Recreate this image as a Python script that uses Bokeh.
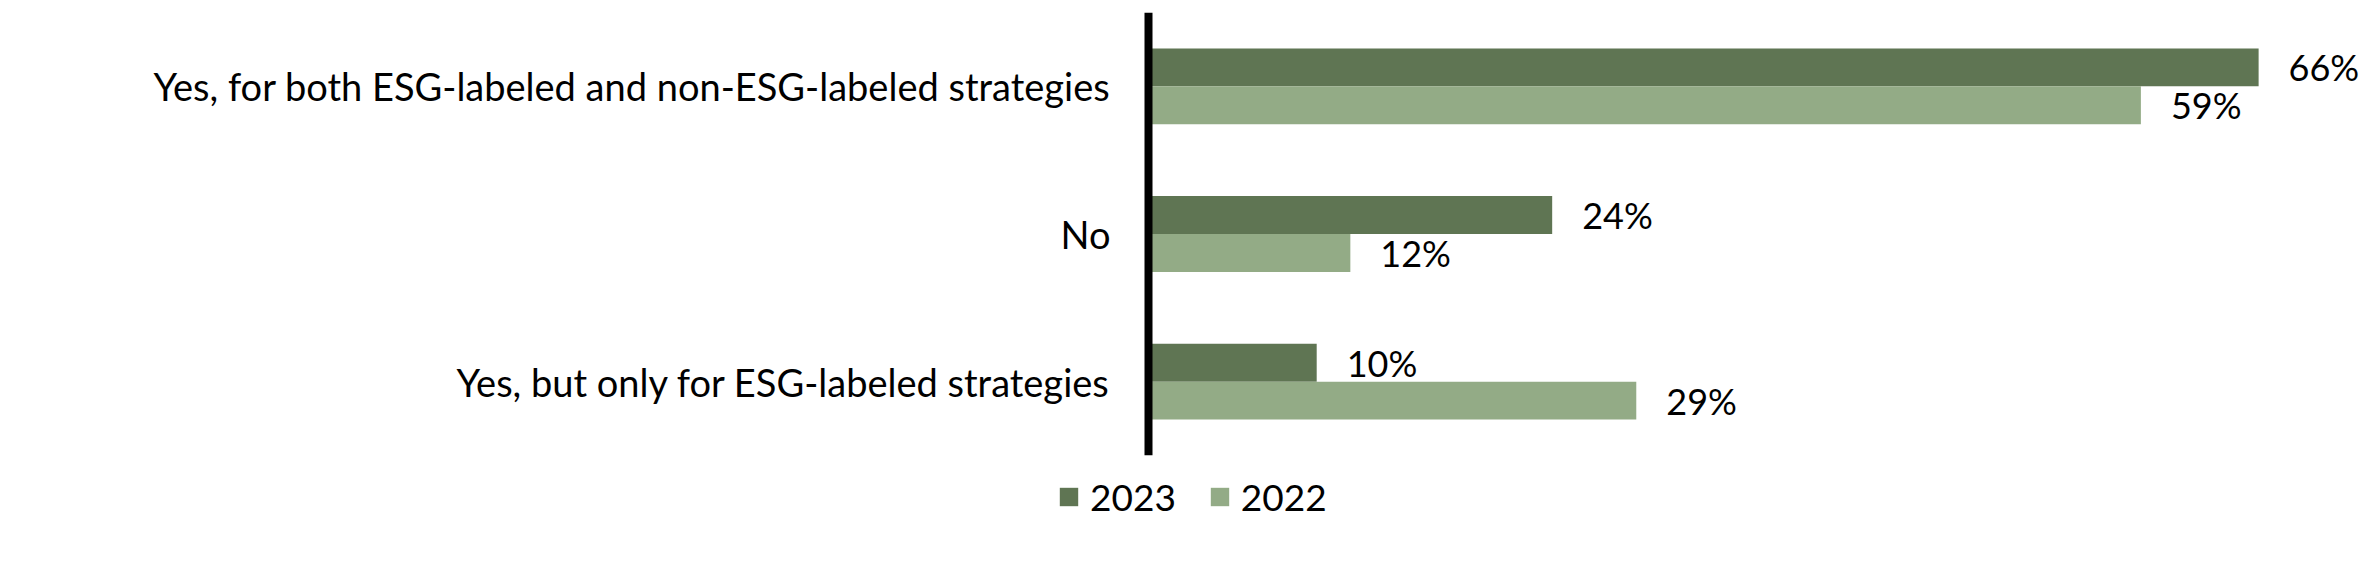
from bokeh.plotting import figure
from bokeh.models import ColumnDataSource, FactorRange, LabelSet, Legend, LegendItem, Span
from bokeh.layouts import column
from bokeh.transform import dodge
from bokeh.core.properties import value
from bokeh.embed import file_html
from bokeh.resources import INLINE

categories = ["Yes, for both ESG-labeled and non-ESG-labeled strategies",
              "No",
              "Yes, but only for ESG-labeled strategies"]
series_names = ["2023", "2022"]
values_2023 = [66, 24, 10]
values_2022 = [59, 12, 29]

C23 = "#5F7553"
C22 = "#93AB86"
FONT = "Lato"

def src(vals):
    return ColumnDataSource(dict(cat=categories, val=vals, lbl=[f"{v}%" for v in vals]))

s23 = src(values_2023)
s22 = src(values_2022)
scat = ColumnDataSource(dict(cat=categories))

W = 2360
PX_PER_UNIT = 16.82
ZERO_PX = 1148
x_start = -ZERO_PX / PX_PER_UNIT
x_end = (W - ZERO_PX) / PX_PER_UNIT

p = figure(width=W, height=460, output_backend="svg", toolbar_location=None,
           y_range=FactorRange(factors=list(reversed(categories)), range_padding=0),
           x_range=(x_start, x_end), min_border_left=0, min_border_right=0,
           min_border_top=12, min_border_bottom=5)

bh = 0.257
r23 = p.hbar(y=dodge("cat", bh / 2, range=p.y_range), right="val", left=0, height=bh,
             source=s23, fill_color=C23, line_color=None)
r22 = p.hbar(y=dodge("cat", -bh / 2, range=p.y_range), right="val", left=0, height=bh,
             source=s22, fill_color=C22, line_color=None)

for s, off in ((s23, bh / 2), (s22, -bh / 2)):
    p.add_layout(LabelSet(x="val", y=dodge("cat", off, range=p.y_range), text="lbl", source=s,
                          x_offset=30, text_baseline="middle", text_align="left",
                          text_font=value(FONT), text_font_size="36px", text_color="black"))

# category labels to the left of the zero line
p.add_layout(LabelSet(x=0, y="cat", text="cat", source=scat, x_offset=-38,
                      text_align="right", text_baseline="middle",
                      text_font=value(FONT), text_font_size="38px", text_color="black"))

# vertical axis line at zero
p.add_layout(Span(location=0, dimension="height", line_color="black", line_width=8))

p.xaxis.visible = False
p.yaxis.visible = False
p.xgrid.visible = False
p.ygrid.visible = False
p.outline_line_color = None

# legend strip below the chart (its renderers are hidden copies of the bar series)
q = figure(width=W, height=85, output_backend="svg", toolbar_location=None,
           y_range=FactorRange(factors=list(reversed(categories))), x_range=(x_start, x_end),
           min_border=0)
q.xaxis.visible = False
q.yaxis.visible = False
q.xgrid.visible = False
q.ygrid.visible = False
q.outline_line_color = None
g23 = q.hbar(y="cat", right="val", left=0, height=0.5, source=s23,
             fill_color=C23, line_color=None, visible=False)
g22 = q.hbar(y="cat", right="val", left=0, height=0.5, source=s22,
             fill_color=C22, line_color=None, visible=False)
legend = Legend(items=[LegendItem(label=series_names[0], renderers=[g23]),
                       LegendItem(label=series_names[1], renderers=[g22])],
                location=(1057, 26), orientation="horizontal",
                glyph_width=23, glyph_height=23, label_standoff=10, spacing=32,
                padding=0, margin=0, border_line_color=None, background_fill_alpha=0,
                inactive_fill_alpha=0,
                label_text_font=FONT, label_text_font_size="37px", label_text_color="black")
q.add_layout(legend, "center")

open("out.html", "w").write(file_html(column(p, q, spacing=0), INLINE))
